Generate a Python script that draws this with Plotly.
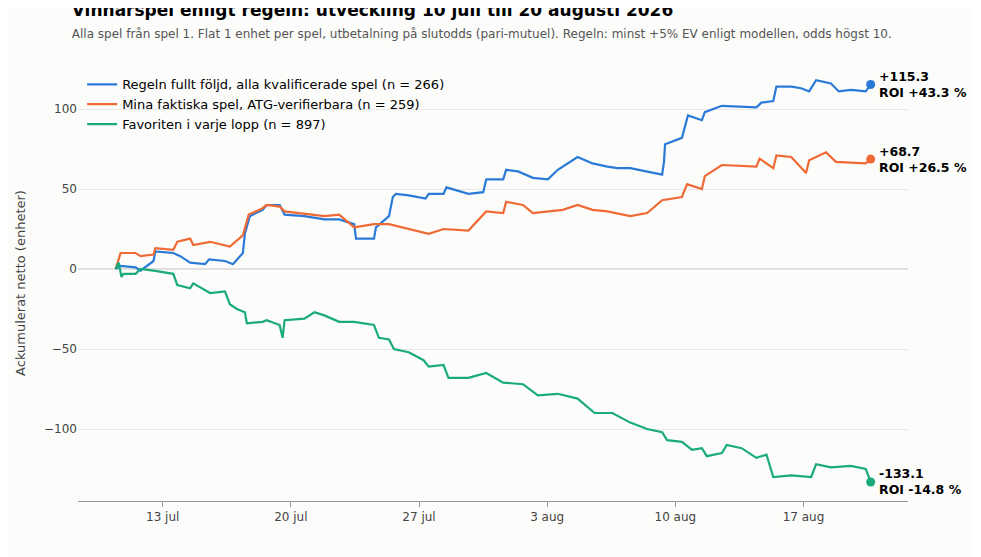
import plotly.graph_objects as go
import pandas as pd

# dagar efter 10 juli 00:00, kumulerat netto (enheter)
regel_dag = [0.43, 0.7, 1.52, 1.79, 2.5, 2.6, 3.58, 3.96, 4.5, 5.32, 5.53, 6.4, 6.84, 7.38, 7.49, 7.76,
             8.46, 8.68, 9.39, 9.66, 10.74, 11.83, 12.64, 13.46, 13.56, 14.54, 14.65, 15.36, 15.57, 15.74,
             16.44, 17.36, 17.53, 18.34, 18.5, 19.7, 20.51, 20.67, 21.6, 21.76, 22.41, 23.22, 24.04, 24.58,
             25.66, 26.48, 27.29, 27.84, 28.54, 29.46, 30.28, 30.38, 30.44, 31.36, 31.53, 31.69, 32.45,
             32.61, 33.54, 35.43, 35.7, 36.35, 36.52, 37.33, 37.87, 38.31, 38.69, 39.5, 39.93, 40.59,
             41.4, 41.67]
regel_val = [0, 2, 1, -1, 5, 11, 10, 8, 4, 3, 6, 5, 3, 10, 22, 33,
             37, 40, 40, 34, 33, 31, 31, 28, 19, 19, 26, 33, 45, 47,
             46, 44, 47, 47, 51, 47, 48, 56, 56, 62, 61, 57, 56, 62,
             70, 66, 64, 63, 63, 61, 59, 67, 78, 82, 90, 96, 93,
             98, 102, 101, 104, 105, 114, 114, 113, 111, 118, 116, 111, 112,
             111, 115.3]

mina_dag = [0.43, 0.7, 1.52, 1.79, 2.5, 2.6, 3.58, 3.8, 4.5, 4.67, 5.59, 6.67, 7.38, 7.7, 8.46, 8.68,
            9.39, 9.66, 11.83, 12.64, 13.46, 14.54, 15.36, 17.53, 18.34, 19.7, 20.67, 21.6, 21.76, 22.68,
            23.22, 24.85, 25.66, 26.48, 27.29, 28.54, 29.46, 30.28, 31.36, 31.64, 32.45, 32.61, 33.54,
            35.43, 35.6, 36.35, 36.52, 37.33, 38.14, 38.31, 39.23, 39.5, 39.77, 41.4, 41.67]
mina_val = [0, 10, 10, 8, 9, 13, 12, 17, 19, 15, 17, 14, 21, 34, 38, 40,
            39, 36, 33, 34, 26, 28, 28, 22, 25, 24, 36, 35, 42, 40,
            35, 37, 40, 37, 36, 33, 35, 43, 45, 53, 50, 58, 65,
            64, 69, 63, 71, 70, 60, 68, 73, 70, 67, 66, 68.7]

favorit_dag = [0.43, 0.6, 0.75, 0.86, 1.52, 1.79, 2.5, 3.58, 3.8, 4.5, 4.67, 5.59, 6.4, 6.67, 7.05, 7.49,
               7.6, 8.46, 8.68, 9.39, 9.55, 9.66, 10.74, 11.29, 11.83, 12.64, 13.46, 14.54, 14.81, 15.36,
               15.63, 16.44, 17.25, 17.53, 18.34, 18.61, 19.7, 20.67, 21.6, 22.68, 23.49, 24.58, 25.66,
               26.59, 27.56, 28.54, 29.46, 30.28, 30.55, 31.36, 31.91, 32.45, 32.72, 33.54, 33.81, 34.62,
               35.43, 35.98, 36.35, 37.33, 38.42, 38.69, 39.5, 40.59, 41.4, 41.67]
favorit_val = [0, 4, -5, -3, -3, 0, -1, -3, -10, -12, -9, -15, -14, -22, -25, -27,
               -34, -33, -32, -35, -43, -32, -31, -27, -29, -33, -33, -35, -43, -44,
               -50, -52, -57, -61, -60, -68, -68, -65, -71, -72, -79, -78, -81,
               -90, -90, -96, -100, -102, -107, -108, -113, -112, -117, -115, -110, -112,
               -118, -116, -130, -129, -130, -122, -124, -123, -125, -133.1]

serier = [
    ("Regeln fullt följd, alla kvalificerade spel (n = 266)", regel_dag, regel_val, "#2a7bd8", "+115.3<br>ROI +43.3 %"),
    ("Mina faktiska spel, ATG-verifierbara (n = 259)", mina_dag, mina_val, "#f06a35", "+68.7<br>ROI +26.5 %"),
    ("Favoriten i varje lopp (n = 897)", favorit_dag, favorit_val, "#1aab7a", "-133.1<br>ROI -14.8 %"),
]

start = pd.Timestamp("2026-07-10")
fig = go.Figure()
for namn, dag, val, farg, etikett in serier:
    t = start + pd.to_timedelta(dag, unit="D")
    fig.add_trace(go.Scatter(x=t, y=val, mode="lines", name=namn,
                             line=dict(color=farg, width=2.2)))
    fig.add_trace(go.Scatter(x=[t[-1]], y=[val[-1]], mode="markers", showlegend=False,
                             marker=dict(color=farg, size=9)))
    fig.add_annotation(x=t[-1], y=val[-1], text="<b>" + etikett + "</b>", showarrow=False,
                       xanchor="left", xshift=6, align="left",
                       font=dict(size=12.5, color="black"))

tick_datum = ["2026-07-13", "2026-07-20", "2026-07-27", "2026-08-03", "2026-08-10", "2026-08-17"]
tick_text = ["13 jul", "20 jul", "27 jul", "3 aug", "10 aug", "17 aug"]

fig.update_layout(
    width=981, height=557,
    paper_bgcolor="#fcfcfa", plot_bgcolor="#fcfcfa",
    font=dict(family="DejaVu Sans", size=12, color="#444"),
    margin=dict(l=64, r=81, t=57, b=64),
    title=dict(text="<b>Vinnarspel enligt regeln: utveckling 10 juli till 20 augusti 2026</b>"
                    "<br><span style='font-size:12px;color:#555'>Alla spel från spel 1. Flat 1 enhet per spel, "
                    "utbetalning på slutodds (pari-mutuel). Regeln: minst +5% EV enligt modellen, odds högst 10.</span>",
               x=0.065, xanchor="left", y=0.985, yanchor="top", font=dict(size=17, color="black")),
    legend=dict(x=0.005, y=0.99, xanchor="left", yanchor="top", bgcolor="rgba(0,0,0,0)",
                font=dict(size=13, color="black")),
    xaxis=dict(range=["2026-07-08 09:00", "2026-08-22 17:00"], tickvals=tick_datum, ticktext=tick_text,
               showgrid=False, showline=True, linecolor="#999", ticks="outside", tickcolor="#999"),
    yaxis=dict(range=[-145, 127.5], tickvals=[-100, -50, 0, 50, 100],
               ticktext=["−100", "−50", "0", "50", "100"],
               title=dict(text="Ackumulerat netto (enheter)", font=dict(size=13)),
               gridcolor="#e8e8e8", zeroline=True, zerolinecolor="#e0e0e0", zerolinewidth=2),
)
fig.add_annotation(text="Källa: stallskrik.se, frysta beslutsvärden vid spelstopp; mina spel dokumenterade i kronologisk ordning hos ATG.",
                   xref="paper", yref="paper", x=-0.072, y=-0.13, xanchor="left", yanchor="top",
                   showarrow=False, font=dict(size=11, color="#555"))

fig.write_html("out.html")
